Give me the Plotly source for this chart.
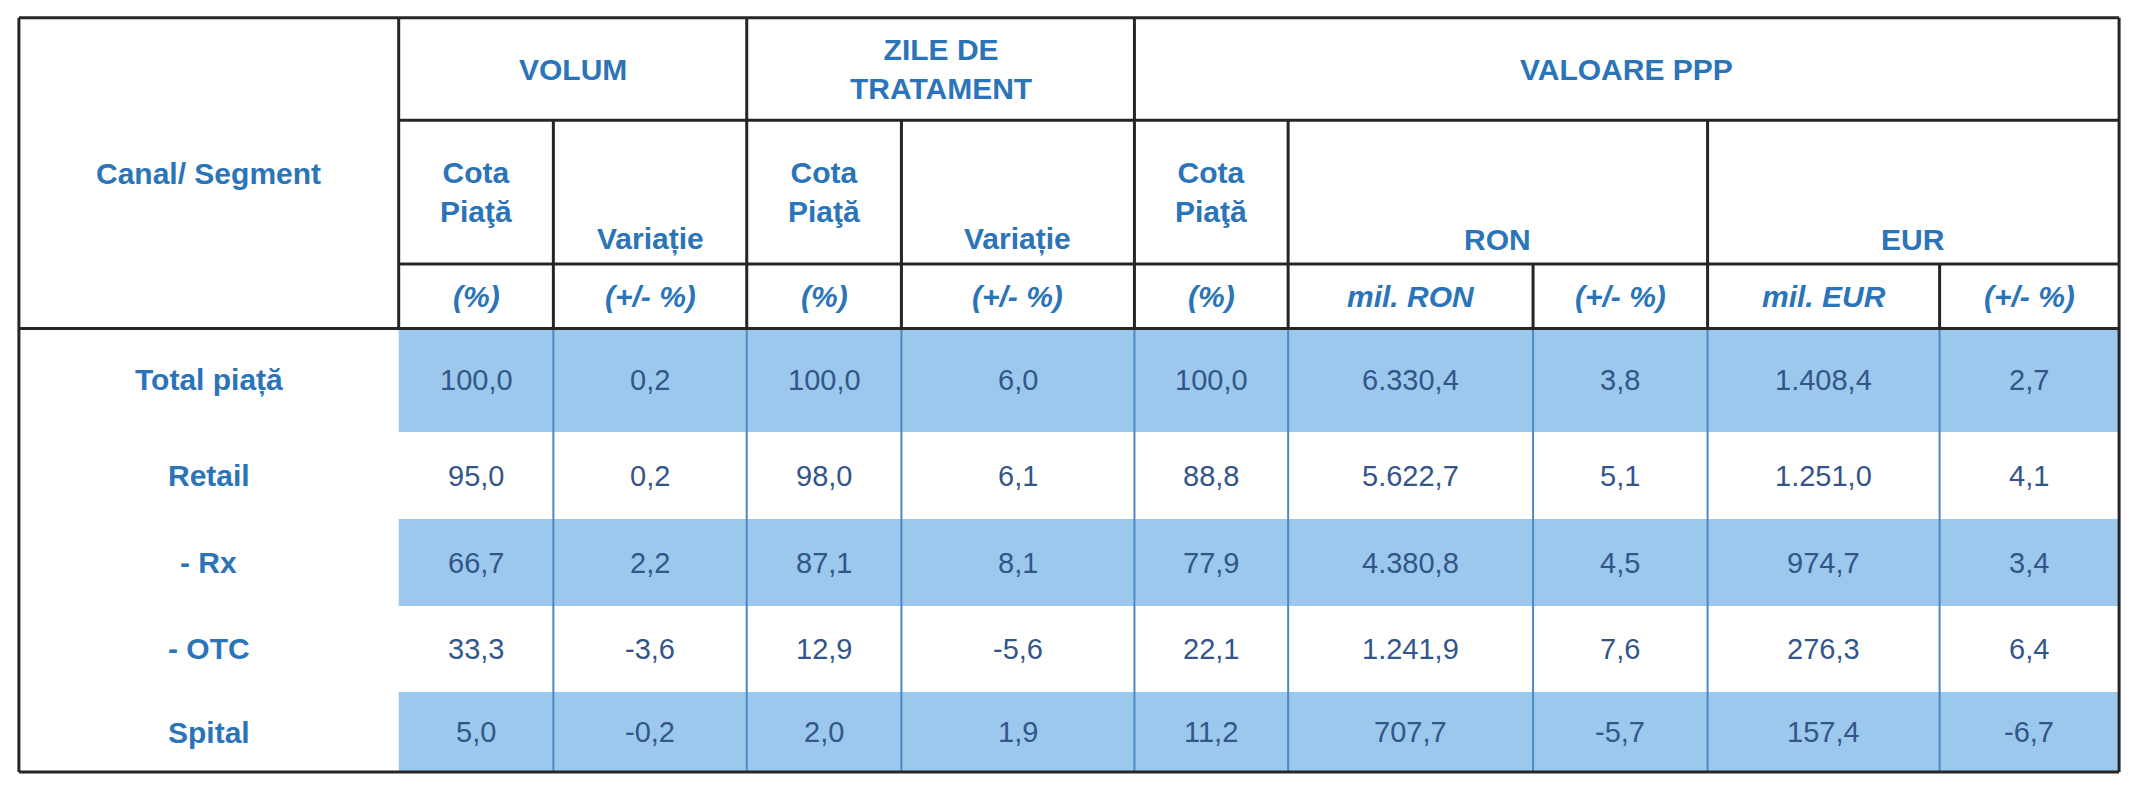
import plotly.graph_objects as go

# data
segments = ["Total piață", "Retail", "- Rx", "- OTC", "Spital"]
vol_cota = ["100,0", "95,0", "66,7", "33,3", "5,0"]
vol_var = ["0,2", "0,2", "2,2", "-3,6", "-0,2"]
zile_cota = ["100,0", "98,0", "87,1", "12,9", "2,0"]
zile_var = ["6,0", "6,1", "8,1", "-5,6", "1,9"]
val_cota = ["100,0", "88,8", "77,9", "22,1", "11,2"]
ron_val = ["6.330,4", "5.622,7", "4.380,8", "1.241,9", "707,7"]
ron_var = ["3,8", "5,1", "4,5", "7,6", "-5,7"]
eur_val = ["1.408,4", "1.251,0", "974,7", "276,3", "157,4"]
eur_var = ["2,7", "4,1", "3,4", "6,4", "-6,7"]
units = ["(%)", "(+/- %)", "(%)", "(+/- %)", "(%)", "mil. RON", "(+/- %)", "mil. EUR", "(+/- %)"]

columns = [vol_cota, vol_var, zile_cota, zile_var, val_cota, ron_val, ron_var, eur_val, eur_var]

# geometry (pixels)
xs = [11, 394, 550, 745, 901, 1136, 1291, 1538, 1714, 1948, 2129]
ys = [10, 115, 262, 328, 434, 523, 612, 700, 782]

HEAD = "#2b74b8"
VAL = "#34558a"
SHADE = "#9bc8ec"
DARK = "#262626"
BLUE_LINE = "#4f86c6"
FONT = "Liberation Sans, Arial"

shapes = []
ann = []


def line(x0, y0, x1, y1, color=DARK, w=3):
    shapes.append(dict(type="line", x0=x0, y0=y0, x1=x1, y1=y1,
                       line=dict(color=color, width=w), layer="above"))


def text(x, y, t, color=HEAD, size=30, yanchor="middle"):
    ann.append(dict(x=x, y=y, text=t, showarrow=False, yanchor=yanchor,
                    font=dict(family=FONT, size=size, color=color)))


def cx(i):
    return (xs[i] + xs[i + 1]) / 2


# shaded rows
for r in (0, 2, 4):
    shapes.append(dict(type="rect", x0=xs[1], x1=xs[-1], y0=ys[3 + r], y1=ys[4 + r],
                       fillcolor=SHADE, line=dict(width=0), layer="below"))

# data vertical separators
for x in xs[2:-1]:
    line(x, ys[3], x, ys[-1], BLUE_LINE, 2)

# header grid
line(xs[0], ys[0], xs[-1], ys[0])
line(xs[1], ys[1], xs[-1], ys[1])
line(xs[1], ys[2], xs[-1], ys[2])
line(xs[0], ys[3], xs[-1], ys[3])
line(xs[0], ys[-1], xs[-1], ys[-1])
line(xs[0], ys[0], xs[0], ys[-1])
line(xs[-1], ys[0], xs[-1], ys[-1])
for i in (1, 3, 5):
    line(xs[i], ys[0], xs[i], ys[3])
for i in (2, 4, 6, 8):
    line(xs[i], ys[1], xs[i], ys[3])
for i in (7, 9):
    line(xs[i], ys[2], xs[i], ys[3])

# header text
text(cx(0), (ys[0] + ys[3]) / 2, "<b>Canal/ Segment</b>")
text((xs[1] + xs[3]) / 2, (ys[0] + ys[1]) / 2, "<b>VOLUM</b>")
text((xs[3] + xs[5]) / 2, (ys[0] + ys[1]) / 2, "<b>ZILE DE<br>TRATAMENT</b>")
text((xs[5] + xs[10]) / 2, (ys[0] + ys[1]) / 2, "<b>VALOARE PPP</b>")
for i in (1, 3, 5):
    text(cx(i), (ys[1] + ys[2]) / 2, "<b>Cota<br>Piaţă</b>")
for i in (2, 4):
    text(cx(i), ys[2] - 6, "<b>Variație</b>", yanchor="bottom")
text((xs[6] + xs[8]) / 2, ys[2] - 6, "<b>RON</b>", yanchor="bottom")
text((xs[8] + xs[10]) / 2, ys[2] - 6, "<b>EUR</b>", yanchor="bottom")
for i, u in enumerate(units):
    text(cx(i + 1), (ys[2] + ys[3]) / 2, "<b><i>" + u + "</i></b>")

# body
for r, seg in enumerate(segments):
    ym = (ys[3 + r] + ys[4 + r]) / 2
    text(cx(0), ym, "<b>" + seg + "</b>")
    for c, col in enumerate(columns):
        text(cx(c + 1), ym, col[r], color=VAL, size=29)

fig = go.Figure()
fig.update_layout(
    width=2122, height=768,
    margin=dict(l=0, r=0, t=0, b=0),
    paper_bgcolor="white", plot_bgcolor="white",
    xaxis=dict(range=[0, 2140], visible=False, fixedrange=True),
    yaxis=dict(range=[786, 0], visible=False, fixedrange=True),
    shapes=shapes, annotations=ann, showlegend=False,
)
fig.write_html("out.html")
